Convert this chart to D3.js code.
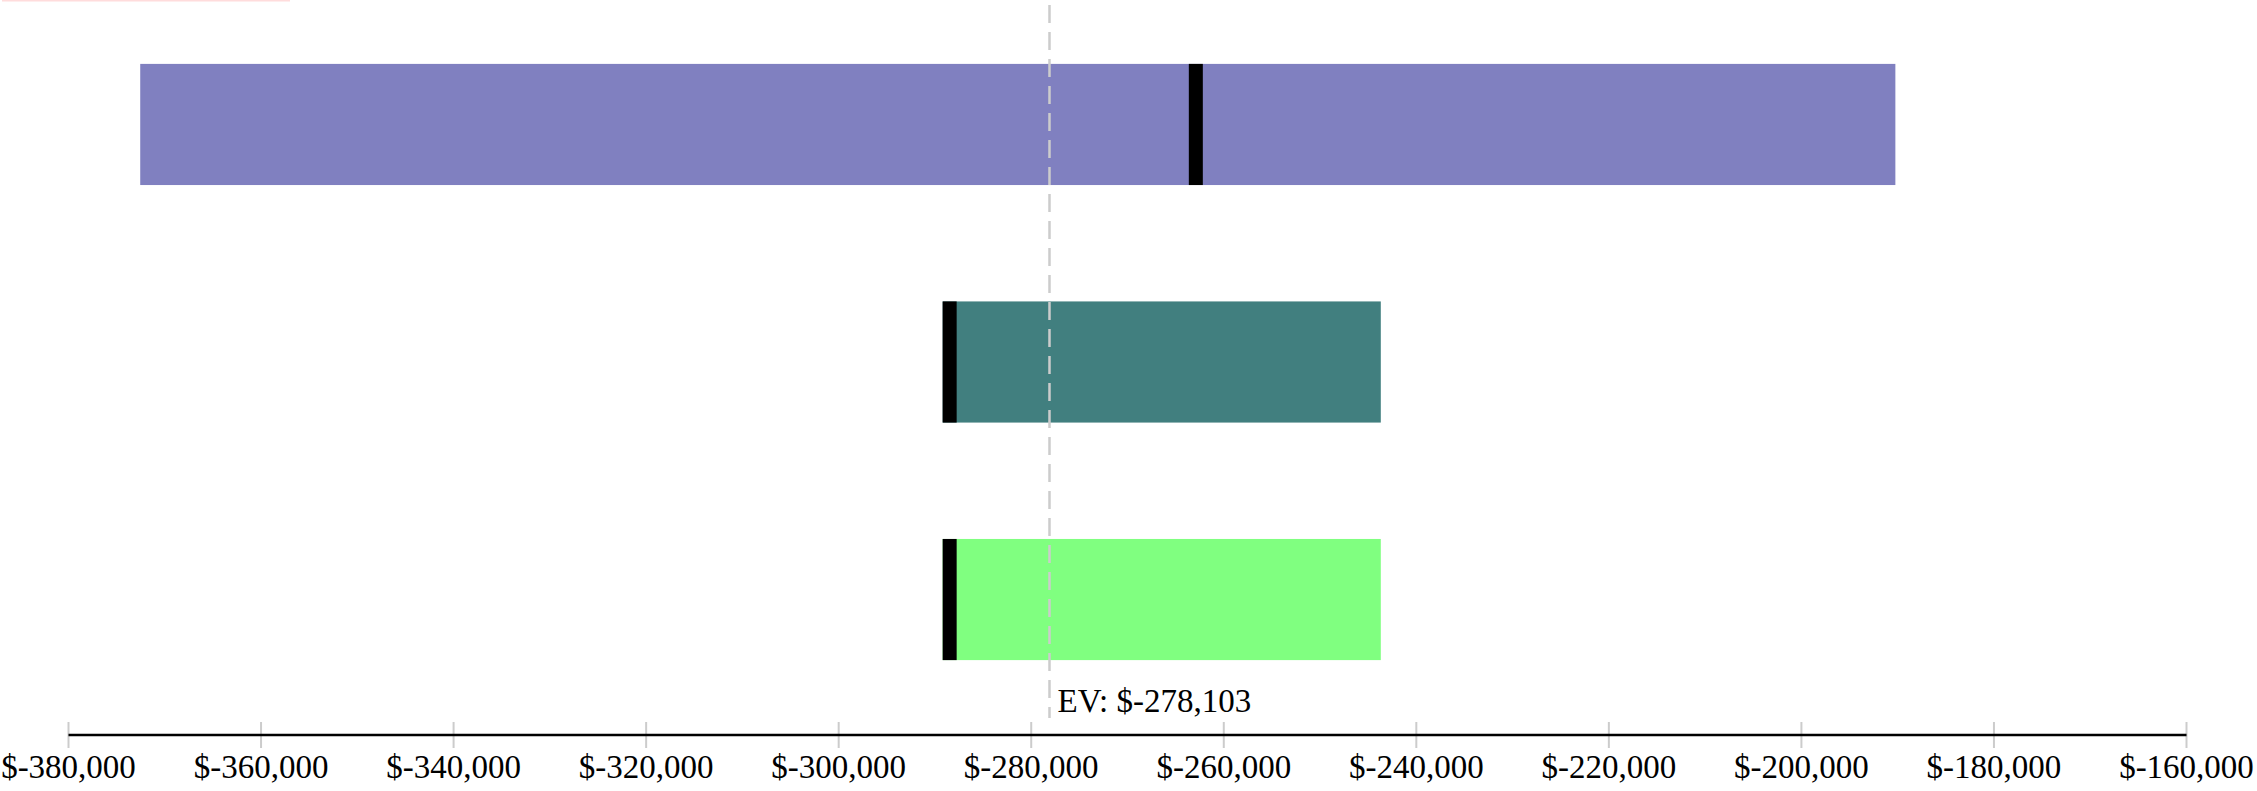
<!DOCTYPE html>
<html>
<head>
<meta charset="utf-8">
<script src="https://cdn.jsdelivr.net/npm/d3@7"></script>
<style>
    body { margin: 0; background: #fff; }
    text { font-family: "Liberation Serif", "Times New Roman", serif; }
</style>
</head>
<body>
<div id="chart"></div>
<script>
// rows of the tornado, top to bottom
const categories = ["Option A", "Option B", "Option C"];
const lowValues = [-372550, -289200, -289200];
const highValues = [-190240, -243690, -243690];
const baseValues = [-263630, -289200, -289200];
const barColors = ["#8080c0", "#417f7f", "#80ff80"];
const expectedValue = -278103;
const tickValues = [-380000, -360000, -340000, -320000, -300000, -280000,
    -260000, -240000, -220000, -200000, -180000, -160000];

const width = 2257, height = 791;

const svg = d3.select("#chart").append("svg")
    .attr("width", width)
    .attr("height", height);

const x = d3.scaleLinear()
    .domain([-380000, -160000])
    .range([68.5, 2186.5]);

const y = d3.scaleBand()
    .domain(categories)
    .range([0, 724])
    .paddingInner(0.49)
    .paddingOuter(0.269);

// plain hyphen, like the original
const money = v => "$" + d3.format(",")(v).replace("\u2212", "-");

// faint legend remnant at the top
svg.append("rect")
    .attr("x", 2).attr("y", 0)
    .attr("width", 288).attr("height", 1.5)
    .attr("fill", "#ffdcdc");

const rows = categories.map((c, i) => ({
    cat: c, low: lowValues[i], high: highValues[i], base: baseValues[i], color: barColors[i]
}));

svg.selectAll(".bar")
    .data(rows)
    .enter().append("rect")
    .attr("class", "bar")
    .attr("x", d => x(d.low))
    .attr("y", d => y(d.cat))
    .attr("width", d => x(d.high) - x(d.low))
    .attr("height", y.bandwidth())
    .attr("fill", d => d.color);

svg.selectAll(".base")
    .data(rows)
    .enter().append("rect")
    .attr("class", "base")
    .attr("x", d => x(d.base))
    .attr("y", d => y(d.cat))
    .attr("width", 14)
    .attr("height", y.bandwidth())
    .attr("fill", "#000");

// expected value line
svg.append("line")
    .attr("x1", x(expectedValue)).attr("x2", x(expectedValue))
    .attr("y1", 5).attr("y2", 718)
    .attr("stroke", "#cccccc")
    .attr("stroke-width", 2.5)
    .attr("stroke-dasharray", "18,9");

svg.append("text")
    .attr("x", x(expectedValue) + 8)
    .attr("y", 712)
    .attr("font-size", 33)
    .attr("fill", "#000")
    .text("EV: " + money(expectedValue));

// axis
const axisY = 735;
const axis = svg.append("g").attr("transform", `translate(0, ${axisY})`);

axis.selectAll(".tick")
    .data(tickValues)
    .enter().append("line")
    .attr("class", "tick")
    .attr("x1", d => x(d)).attr("x2", d => x(d))
    .attr("y1", -13).attr("y2", 13)
    .attr("stroke", "#cccccc")
    .attr("stroke-width", 2);

axis.append("line")
    .attr("x1", x(-380000)).attr("x2", x(-160000))
    .attr("y1", 0).attr("y2", 0)
    .attr("stroke", "#000")
    .attr("stroke-width", 2.5);

axis.selectAll(".label")
    .data(tickValues)
    .enter().append("text")
    .attr("class", "label")
    .attr("x", d => x(d))
    .attr("y", 43)
    .attr("text-anchor", "middle")
    .attr("font-size", 33)
    .attr("fill", "#000")
    .text(d => money(d));
</script>
</body>
</html>
